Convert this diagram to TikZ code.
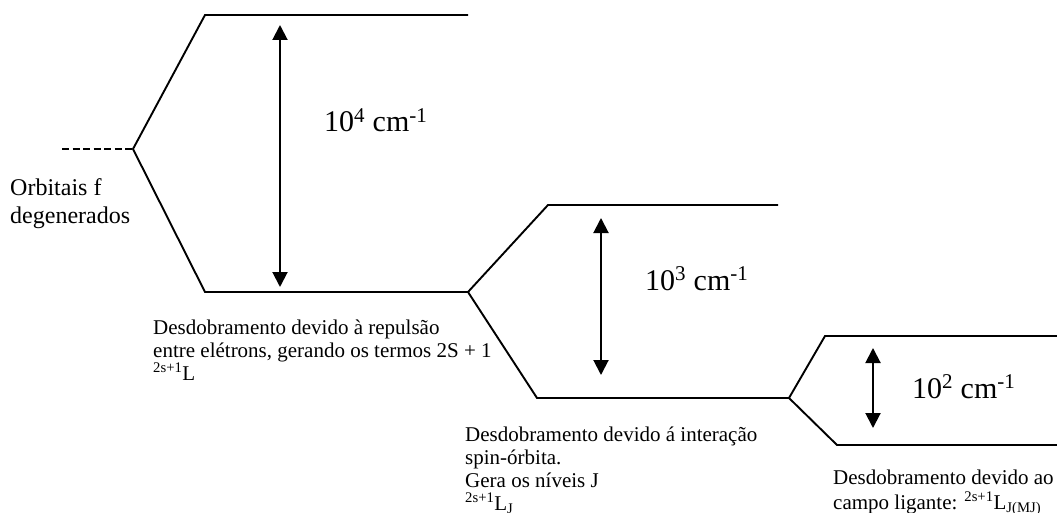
\documentclass[tikz,border=0pt]{standalone}
\usepackage{fontspec}
\setmainfont{Liberation Serif}
\usetikzlibrary{arrows.meta}
\tikzset{
  level/.style={line width=1.9pt, line join=miter},
  gap/.style={line width=2pt, {Triangle[width=15pt,length=15pt]}-{Triangle[width=15pt,length=15pt]}},
  big/.style={font=\fontsize{30}{34}\selectfont, inner sep=0pt, anchor=base west},
  small/.style={font=\fontsize{21}{23}\selectfont, inner sep=0pt, anchor=base west},
  orb/.style={font=\fontsize{24}{27}\selectfont, inner sep=0pt, anchor=base west}
}
\begin{document}
\begin{tikzpicture}[x=1pt,y=-1pt]
\useasboundingbox (0,0) rectangle (1057,513);
\clip (0,0) rectangle (1057,513);
% level points
\coordinate (A) at (62,149);
\coordinate (B) at (133,149);
\coordinate (C) at (205,15);
\coordinate (D) at (468,15);
\coordinate (E) at (205,292);
\coordinate (F) at (468,292);
\coordinate (G) at (548,205);
\coordinate (H) at (778,205);
\coordinate (I) at (537,398);
\coordinate (J) at (789,398);
\coordinate (K) at (825,336);
\coordinate (L) at (1057,336);
\coordinate (M) at (837,445);
\coordinate (N) at (1057,445);
% arrow ends
\coordinate (a1t) at (280,25);
\coordinate (a1b) at (280,287);
\coordinate (a2t) at (601,218);
\coordinate (a2b) at (601,375);
\coordinate (a3t) at (873,348);
\coordinate (a3b) at (873,428);
% levels
\draw[level, dash pattern=on 7pt off 3.5pt] (A) -- (B);
\draw[level] (D) -- (C) -- (B) -- (E) -- (F);
\draw[level] (H) -- (G) -- (F) -- (I) -- (J);
\draw[level] (L) -- (K) -- (J) -- (M) -- (N);
% gaps
\draw[gap] (a1t) -- (a1b);
\draw[gap] (a2t) -- (a2b);
\draw[gap] (a3t) -- (a3b);
% energy labels
\node[big] (e4) at (324,132) {10\textsuperscript{4} cm\textsuperscript{-1}};
\node[big] (e3) at (645,290) {10\textsuperscript{3} cm\textsuperscript{-1}};
\node[big] (e2) at (912,398) {10\textsuperscript{2} cm\textsuperscript{-1}};
% left label
\node[orb] (o1) at (10,196) {Orbitais f};
\node[orb] (o2) at (10,223) {degenerados};
% text 1
\node[small] (t11) at (153,334) {Desdobramento devido à repulsão};
\node[small] (t12) at (153,357) {entre elétrons, gerando os termos 2S + 1};
\node[small] (t13) at (153,380) {\textsuperscript{2s+1}L};
% text 2
\node[small] (t21) at (465,441) {Desdobramento devido á interação};
\node[small] (t22) at (465,464) {spin-órbita.};
\node[small] (t23) at (465,487) {Gera os níveis J};
\node[small] (t24) at (465,510) {\textsuperscript{2s+1}L\textsubscript{J}};
% text 3
\node[small] (t31) at (833,484) {Desdobramento devido ao};
\node[small] (t32) at (833,509) {campo ligante: \textsuperscript{2s+1}L\textsubscript{J(MJ)}};
\end{tikzpicture}
\end{document}
